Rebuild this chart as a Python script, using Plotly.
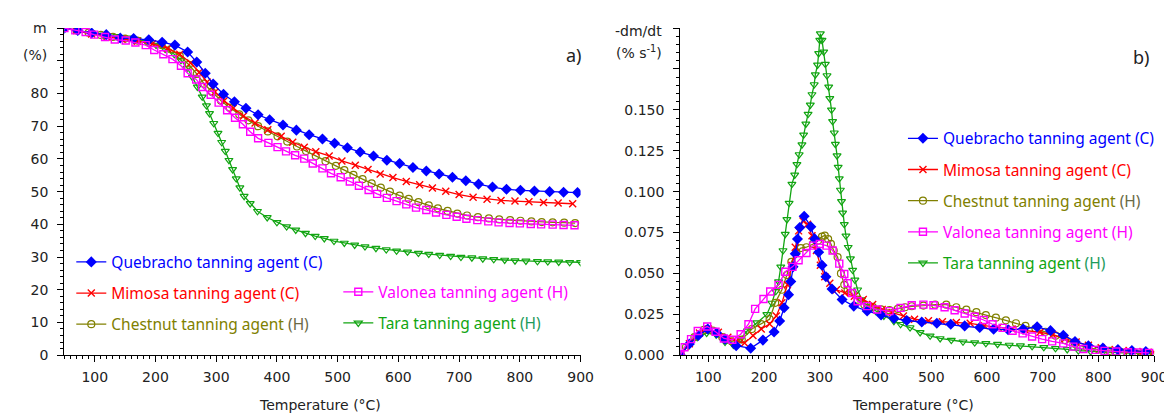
import plotly.graph_objects as go

# ---------------- data: (a) mass m (%) vs temperature ----------------
q_T_mass = [50, 72, 95, 119, 142, 164, 189, 211, 232, 253, 268, 282, 295, 312, 330, 349, 369, 388, 410, 432,
            453, 475, 495, 516, 537, 559, 581, 602, 624, 646, 667, 689, 711, 732, 755, 778, 801, 824, 849, 872, 895]
q_mass = [100, 99.3, 98.5, 98.0, 97.0, 96.8, 96.4, 95.7, 94.8, 92.7, 89.6, 86.2, 82.9, 79.8, 77.5, 75.5, 73.5, 72.0,
          70.4, 68.8, 67.4, 66.1, 64.8, 63.4, 62.1, 60.9, 59.6, 58.6, 57.4, 56.3, 55.4, 54.4, 53.3, 52.3, 51.4, 50.7,
          50.4, 50.2, 50.0, 49.8, 49.7]

m_T_mass = [50, 70, 95, 120, 145, 170, 195, 220, 240, 258, 272, 285, 298, 313, 328, 345, 364, 385, 407, 426, 445,
            464, 486, 507, 529, 550, 570, 591, 613, 635, 656, 678, 700, 723, 746, 769, 792, 815, 839, 863, 887]
m_mass = [100, 99.3, 98.2, 97.3, 96.7, 96.0, 95.2, 93.8, 92.0, 89.3, 86.5, 83.5, 80.5, 77.8, 75.5, 73.1, 71.0, 68.9,
          66.9, 65.1, 63.6, 62.2, 60.9, 59.4, 58.1, 56.8, 55.4, 54.3, 53.1, 52.1, 51.1, 50.1, 49.1, 48.3, 47.7, 47.3,
          47.1, 46.9, 46.7, 46.5, 46.3]

c_T_mass = [50, 70, 90, 110, 130, 150, 170, 190, 210, 225, 240, 255, 268, 280, 293, 308, 322, 338, 353, 369, 385,
            401, 417, 433, 448, 464, 480, 497, 511, 526, 541, 556, 571, 586, 602, 617, 633, 650, 665, 681, 697, 713,
            731, 749, 766, 784, 801, 819, 836, 854, 873, 891]
c_mass = [100, 99.3, 98.6, 97.9, 97.3, 96.8, 96.2, 95.5, 94.8, 93.5, 91.5, 88.8, 86.0, 83.0, 80.5, 77.8, 75.7, 73.6,
          71.8, 70.0, 68.4, 66.9, 65.3, 63.8, 62.4, 60.9, 59.3, 57.9, 56.6, 55.1, 53.8, 52.5, 51.2, 50.0, 48.8, 47.8,
          46.8, 45.8, 44.9, 44.1, 43.3, 42.7, 42.2, 41.8, 41.5, 41.3, 41.1, 40.9, 40.7, 40.6, 40.5, 40.4]

v_T_mass = [50, 68, 85, 99, 117, 133, 151, 167, 184, 198, 213, 228, 242, 253, 267, 277, 291, 304, 318, 331, 344,
            356, 369, 386, 401, 415, 430, 445, 459, 475, 489, 505, 520, 535, 551, 565, 581, 597, 613, 629, 646, 662,
            679, 696, 712, 730, 748, 765, 783, 800, 818, 835, 854, 872, 890]
v_mass = [100, 99.3, 98.8, 98.0, 97.3, 96.5, 96.2, 95.6, 94.8, 93.3, 92.0, 90.5, 88.5, 86.2, 84.3, 82.0, 79.6, 77.2,
          74.9, 72.6, 70.6, 68.3, 66.3, 64.9, 63.6, 62.3, 61.1, 60.1, 58.6, 57.1, 55.6, 54.4, 53.1, 51.8, 50.5, 49.3,
          48.1, 47.1, 46.1, 45.1, 44.4, 43.6, 42.9, 42.3, 41.7, 41.3, 40.9, 40.6, 40.4, 40.3, 40.1, 40.0, 39.9, 39.8,
          39.7]

t_T_mass = [50, 72, 95, 115, 136, 155, 170, 185, 201, 216, 231, 242, 252, 261, 269, 277, 284, 289, 296, 303, 309,
            315, 321, 327, 333, 339, 346, 356, 368, 384, 400, 416, 431, 447, 463, 478, 494, 511, 528, 545, 563, 580,
            597, 615, 633, 650, 668, 686, 703, 721, 739, 757, 775, 792, 810, 829, 846, 864, 882, 900]
t_mass = [100, 99.2, 98.4, 97.9, 97.5, 97.0, 96.5, 95.8, 94.8, 93.6, 92.0, 90.2, 87.8, 85.0, 82.0, 79.0, 76.3, 73.9,
          70.9, 67.9, 65.1, 62.4, 59.6, 56.8, 54.0, 51.2, 48.6, 46.4, 44.0, 42.1, 40.6, 39.3, 38.3, 37.3, 36.4, 35.7,
          34.9, 34.3, 33.7, 33.2, 32.7, 32.3, 31.9, 31.6, 31.2, 30.9, 30.6, 30.3, 30.0, 29.8, 29.5, 29.3, 29.1, 28.9,
          28.8, 28.7, 28.6, 28.5, 28.4, 28.4]

# ---------------- data: (b) -dm/dt (% s-1) vs temperature ----------------
q_T_rate = [50, 66, 82, 99, 115, 130, 150, 176, 198, 218, 228, 236, 244, 248, 252, 256, 260, 264, 272, 284, 291,
            298, 304, 311, 322, 340, 361, 385, 410, 433, 456, 483, 510, 535, 560, 587, 612, 638, 665, 690, 714, 737,
            758, 782, 808, 835, 860, 885]
q_rate = [0.000, 0.0068, 0.012, 0.016, 0.0135, 0.0098, 0.0058, 0.0042, 0.0092, 0.0142, 0.0209, 0.029, 0.037, 0.045,
          0.054, 0.062, 0.071, 0.078, 0.085, 0.0785, 0.0711, 0.063, 0.055, 0.048, 0.0404, 0.034, 0.030, 0.027, 0.0245,
          0.0225, 0.0212, 0.0203, 0.0195, 0.0189, 0.0179, 0.0169, 0.0159, 0.0155, 0.016, 0.0173, 0.0150, 0.0122,
          0.0084, 0.0058, 0.0044, 0.0034, 0.0028, 0.0022]

m_T_rate = [50, 66, 84, 100, 118, 135, 150, 165, 180, 195, 210, 222, 232, 242, 250, 256, 262, 270, 278, 286, 294,
            301, 309, 318, 330, 345, 362, 378, 395, 412, 430, 450, 470, 495, 520, 545, 570, 595, 620, 645, 670, 695,
            718, 740, 760, 782, 805, 830, 855, 880, 900]
m_rate = [0.000, 0.007, 0.0135, 0.016, 0.014, 0.011, 0.0085, 0.0075, 0.012, 0.016, 0.019, 0.024, 0.032, 0.043, 0.055,
          0.066, 0.076, 0.082, 0.080, 0.073, 0.064, 0.055, 0.048, 0.044, 0.040, 0.038, 0.036, 0.034, 0.031, 0.028,
          0.026, 0.024, 0.022, 0.021, 0.0205, 0.020, 0.0195, 0.018, 0.017, 0.016, 0.015, 0.014, 0.0125, 0.010, 0.008,
          0.006, 0.0045, 0.0035, 0.0028, 0.0022, 0.0018]

c_T_rate = [50, 60, 75, 92, 108, 125, 142, 160, 178, 195, 210, 220, 232, 241, 249, 258, 266, 276, 288, 297, 304,
            309, 315, 320, 325, 332, 338, 344, 350, 356, 368, 380, 395, 410, 425, 440, 453, 465, 486, 507, 527, 545,
            563, 581, 598, 616, 634, 652, 669, 687, 705, 723, 740, 758, 779, 800, 820, 841, 865, 888]
c_rate = [0.000, 0.005, 0.011, 0.0155, 0.015, 0.011, 0.0085, 0.0095, 0.016, 0.019, 0.022, 0.032, 0.040, 0.049, 0.057,
          0.063, 0.0655, 0.066, 0.068, 0.0701, 0.0725, 0.0731, 0.071, 0.068, 0.064, 0.060, 0.050, 0.043, 0.040, 0.038,
          0.0339, 0.0309, 0.0295, 0.028, 0.0275, 0.0283, 0.0293, 0.0299, 0.0303, 0.0309, 0.0309, 0.0293, 0.0279,
          0.0263, 0.0245, 0.0229, 0.0213, 0.0195, 0.0179, 0.0163, 0.0143, 0.0119, 0.0092, 0.0068, 0.0048, 0.0034,
          0.0026, 0.0018, 0.0016, 0.0014]

v_T_rate = [50, 57, 69, 81, 98, 113, 128, 143, 158, 172, 184, 199, 211, 226, 238, 251, 262, 276, 288, 300, 312,
            323, 335, 344, 350, 358, 368, 385, 403, 425, 445, 465, 486, 504, 524, 542, 560, 578, 594, 610, 628, 646,
            664, 681, 699, 717, 737, 755, 773, 794, 811, 832, 853, 872, 891]
v_rate = [0.000, 0.0048, 0.0098, 0.0148, 0.0175, 0.0143, 0.0102, 0.0094, 0.0128, 0.0189, 0.0283, 0.0343, 0.0389,
          0.0430, 0.051, 0.054, 0.058, 0.0625, 0.067, 0.068, 0.067, 0.064, 0.056, 0.0496, 0.044, 0.038, 0.033, 0.030,
          0.0279, 0.0269, 0.0289, 0.0305, 0.0309, 0.0305, 0.0293, 0.0275, 0.0255, 0.0235, 0.0215, 0.0189, 0.0167,
          0.0149, 0.0133, 0.0114, 0.0098, 0.0084, 0.0072, 0.0052, 0.0038, 0.0032, 0.0026, 0.0022, 0.0018, 0.0016,
          0.0014]

t_T_rate = [50, 64, 80, 97, 114, 130, 145, 158, 170, 187, 205, 214, 221, 226, 230, 234, 238, 241, 245, 250, 255,
            259, 263, 268, 271, 275, 279, 283, 286, 290, 292, 296, 298, 300, 301, 304, 307, 310, 313, 316, 318, 321,
            323, 326, 328, 331, 333, 335, 337, 339, 341, 344, 347, 351, 355, 359, 363, 368, 375, 385, 400, 415, 433,
            445, 462, 480, 498, 516, 536, 557, 578, 598, 619, 640, 660, 681, 702, 723, 744, 764, 786, 808, 830, 853,
            875, 897]
t_rate = [0.000, 0.006, 0.011, 0.0135, 0.0125, 0.008, 0.0062, 0.010, 0.0149, 0.0199, 0.0249, 0.0319, 0.039, 0.045,
          0.054, 0.064, 0.074, 0.083, 0.093, 0.1046, 0.1102, 0.1167, 0.1227, 0.1287, 0.1347, 0.1414, 0.1474, 0.153,
          0.1594, 0.1655, 0.1715, 0.1775, 0.1845, 0.1926, 0.1966, 0.1926, 0.1855, 0.178, 0.171, 0.164, 0.157, 0.150,
          0.143, 0.136, 0.129, 0.122, 0.115, 0.108, 0.101, 0.094, 0.087, 0.080, 0.073, 0.066, 0.059, 0.052, 0.046,
          0.040, 0.034, 0.030, 0.027, 0.024, 0.0208, 0.0189, 0.0169, 0.0139, 0.0118, 0.0102, 0.0092, 0.0082, 0.0077,
          0.0072, 0.0067, 0.0062, 0.0058, 0.0054, 0.0048, 0.0042, 0.0035, 0.0028, 0.0023, 0.0018, 0.0015, 0.0012,
          0.0011, 0.0010]

mass_ticks = [0, 10, 20, 30, 40, 50, 60, 70, 80]
mass_extra_ticks = [90, 100]
rate_ticks = [0, 0.025, 0.05, 0.075, 0.1, 0.125, 0.15]
rate_ticktext = ["0.000", "0.025", "0.050", "0.075", "0.100", "0.125", "0.150"]
rate_extra_ticks = [0.175, 0.2]
temp_ticks = [100, 200, 300, 400, 500, 600, 700, 800, 900]

# ---------------- styling ----------------
W, H = 1172, 414
BLUE, RED, OLIVE, MAG, GREEN = "#0000ff", "#ff0000", "#808000", "#ff00ff", "#12a512"
LEG_FONT = "Noto Sans, Open Sans, sans-serif"
AX_FONT = "DejaVu Sans, Verdana, sans-serif"

series = [
    ("t", "Tara tanning agent <span style='color:#1d9b5c'>(H)</span>", GREEN,
     dict(symbol="triangle-down-open", size=7, color=GREEN, line=dict(color=GREEN, width=1.2)),
     (t_T_mass, t_mass), (t_T_rate, t_rate), "legend2", 5),
    ("c", "Chestnut tanning agent <span style='color:#6a6a45'>(H)</span>", OLIVE,
     dict(symbol="circle-open", size=7, color=OLIVE, line=dict(color=OLIVE, width=1.2)),
     (c_T_mass, c_mass), (c_T_rate, c_rate), "legend", 3),
    ("m", "Mimosa tanning agent (C)", RED,
     dict(symbol="x-thin", size=7, color=RED, line=dict(color=RED, width=1.4)),
     (m_T_mass, m_mass), (m_T_rate, m_rate), "legend", 2),
    ("q", "Quebracho tanning agent (C)", BLUE,
     dict(symbol="diamond", size=8.5, color=BLUE, line=dict(width=0)),
     (q_T_mass, q_mass), (q_T_rate, q_rate), "legend", 1),
    ("v", "Valonea tanning agent (H)", MAG,
     dict(symbol="square-open", size=7, color=MAG, line=dict(color=MAG, width=1.4)),
     (v_T_mass, v_mass), (v_T_rate, v_rate), "legend2", 4),
]

fig = go.Figure()
for key, name, col, mk, md, rd, leg, rank in series:
    label = f"<span style='color:{col}'>{name}</span>"
    fig.add_trace(go.Scatter(
        x=md[0], y=md[1], mode="lines+markers", name=label,
        line=dict(color=col, width=1.3), marker=mk,
        xaxis="x", yaxis="y", legend=leg, legendgroup="a" + key, legendrank=rank))
    fig.add_trace(go.Scatter(
        x=rd[0], y=rd[1], mode="lines+markers", name=label,
        line=dict(color=col, width=1.3), marker=mk,
        xaxis="x2", yaxis="y2", legend="legend3", legendgroup="b" + key, legendrank=rank))


def px(x):
    return x / W


def py(y):
    return 1 - y / H


ydom = [py(354), py(20.5)]
common_axis = dict(showline=True, linecolor="black", linewidth=1.4, ticks="outside", ticklen=6, tickwidth=1.2,
                   tickcolor="black", showgrid=False, zeroline=False, mirror=False,
                   tickfont=dict(family=AX_FONT, size=14, color="#222"))
minor_x = dict(ticks="outside", dtick=10, tick0=0, ticklen=3, tickwidth=1, tickcolor="black")

leg_common = dict(xanchor="left", yanchor="top", bgcolor="rgba(0,0,0,0)",
                  font=dict(family=LEG_FONT, size=15.5, color="black"), itemwidth=30, tracegroupgap=8,
                  traceorder="grouped")

fig.update_layout(
    width=W, height=H, margin=dict(l=0, r=0, t=0, b=0),
    paper_bgcolor="white", plot_bgcolor="white",
    xaxis=dict(domain=[px(57), px(579)], range=[50, 900], tickvals=temp_ticks, anchor="y",
               minor=minor_x, ticklabelstandoff=3, **common_axis),
    yaxis=dict(domain=ydom, range=[0, 100], tickvals=mass_ticks, anchor="x",
               minor=dict(ticks="outside", dtick=2, tick0=0, ticklen=3, tickwidth=1, tickcolor="black"),
               ticklabelstandoff=6, **common_axis),
    # overlay axis carrying the unlabelled major ticks at 90 and 100
    yaxis3=dict(domain=ydom, range=[0, 100], tickvals=mass_extra_ticks, overlaying="y", anchor="x",
                side="left", showticklabels=False, showline=False, ticks="outside", ticklen=6, tickwidth=1.2,
                tickcolor="black", showgrid=False, zeroline=False),
    xaxis2=dict(domain=[px(680), px(1159)], range=[50, 900], tickvals=temp_ticks, anchor="y2",
                minor=minor_x, ticklabelstandoff=3, **common_axis),
    yaxis2=dict(domain=ydom, range=[0, 0.2], tickvals=rate_ticks, ticktext=rate_ticktext, anchor="x2",
                minor=dict(ticks="outside", dtick=0.005, tick0=0, ticklen=3, tickwidth=1, tickcolor="black"),
                ticklabelstandoff=6, **common_axis),
    yaxis4=dict(domain=ydom, range=[0, 0.2], tickvals=rate_extra_ticks, overlaying="y2", anchor="x2",
                side="left", showticklabels=False, showline=False, ticks="outside", ticklen=6, tickwidth=1.2,
                tickcolor="black", showgrid=False, zeroline=False),
    showlegend=True,
    legend=dict(x=px(64), y=py(242), **leg_common),
    legend2=dict(x=px(334), y=py(272.5), **leg_common),
    legend3=dict(x=px(905), y=py(116), **leg_common),
)

# invisible traces so the overlay tick axes are drawn
fig.add_trace(go.Scatter(x=[None], y=[None], xaxis="x", yaxis="y3", showlegend=False, hoverinfo="skip"))
fig.add_trace(go.Scatter(x=[None], y=[None], xaxis="x2", yaxis="y4", showlegend=False, hoverinfo="skip"))

ann_font = dict(family=AX_FONT, size=14, color="#222")
annots = [
    dict(text="m", x=px(41), y=py(20.5), xanchor="right", yanchor="middle", font=ann_font),
    dict(text="(%)", x=px(41), y=py(48), xanchor="right", yanchor="middle", font=ann_font),
    dict(text="-dm/dt", x=px(663), y=py(23), xanchor="right", yanchor="middle", font=ann_font),
    dict(text="(% s<sup>-1</sup>)", x=px(663), y=py(45), xanchor="right", yanchor="middle", font=ann_font),
    dict(text="a)", x=px(582), y=py(48), xanchor="right", yanchor="middle",
         font=dict(family=LEG_FONT, size=18, color="#222")),
    dict(text="b)", x=px(1156), y=py(50), xanchor="right", yanchor="middle",
         font=dict(family=LEG_FONT, size=18, color="#222")),
    dict(text="Temperature (°C)", x=px(316), y=py(405), xanchor="center", yanchor="middle", font=ann_font),
    dict(text="Temperature (°C)", x=px(915), y=py(405), xanchor="center", yanchor="middle", font=ann_font),
]
for a in annots:
    fig.add_annotation(xref="paper", yref="paper", showarrow=False, **a)

fig.write_html("out.html")
